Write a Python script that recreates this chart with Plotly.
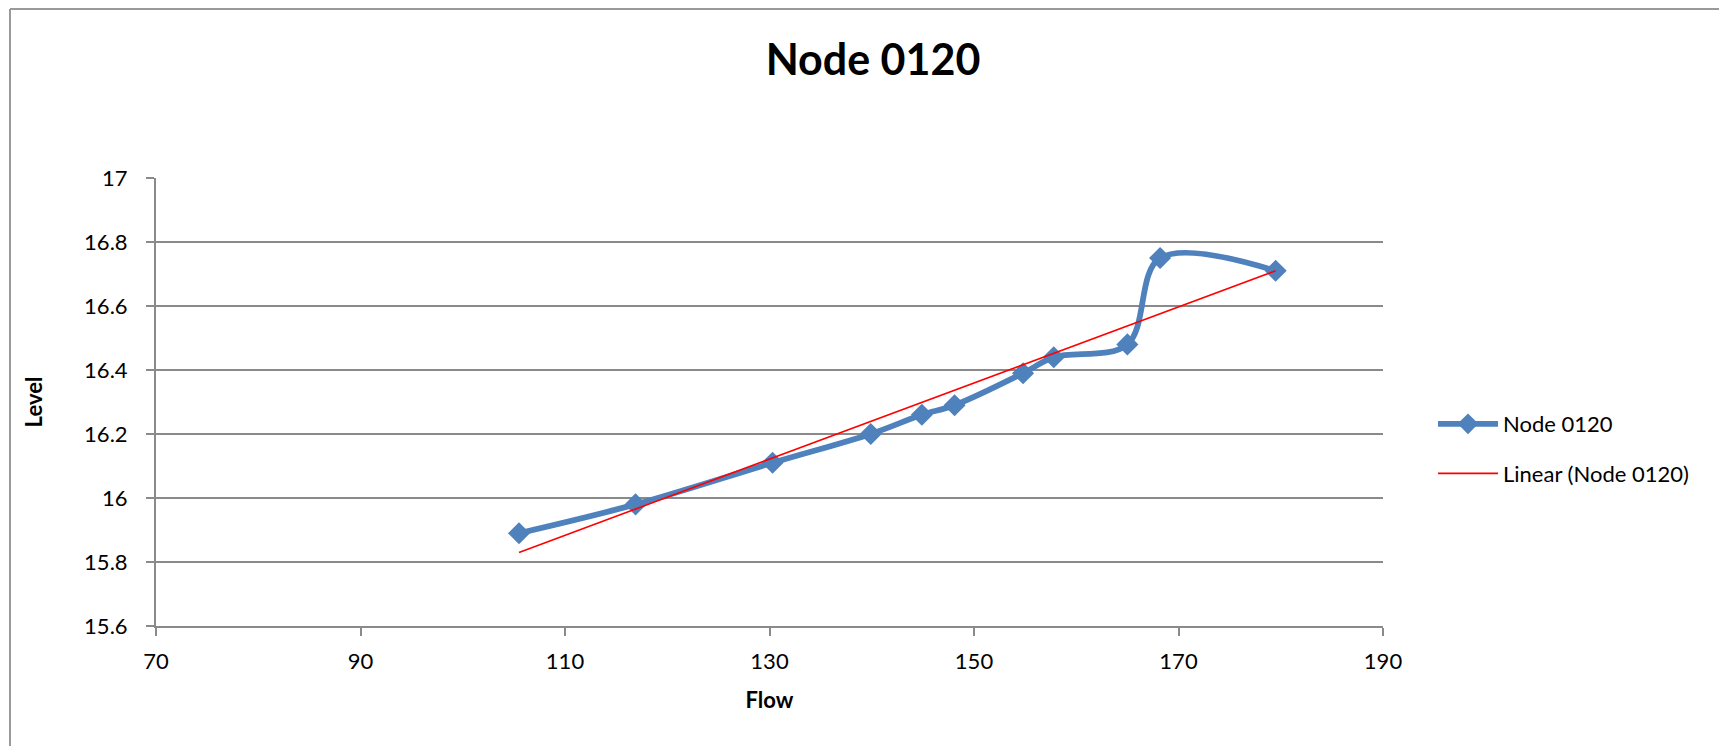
import plotly.graph_objects as go

# Data
flow = [105.5, 116.9, 130.3, 139.9, 144.9, 148.1, 154.8, 157.8, 165.0, 168.2, 179.5]
level = [15.89, 15.98, 16.11, 16.20, 16.26, 16.29, 16.39, 16.44, 16.48, 16.75, 16.71]

# Linear trendline endpoints
trend_flow = [105.5, 179.5]
trend_level = [15.83, 16.71]

x_ticks = [70, 90, 110, 130, 150, 170, 190]
y_ticks = [15.6, 15.8, 16, 16.2, 16.4, 16.6, 16.8, 17]
y_tick_text = ["15.6", "15.8", "16", "16.2", "16.4", "16.6", "16.8", "17"]

series_name = "Node 0120"
trend_name = "Linear (Node 0120)"

FONT = "Lato"
BLUE = "#4F81BD"
GRID = "#8a8a8a"

# page-space geometry (the page body adds an 8px margin around the figure)
OFF = 8
PW, PH = 1727, 746
W, H = PW - OFF, PH - OFF
L, R, T, B = 156 - OFF, 1383 - OFF, 178 - OFF, 626 - OFF

fig = go.Figure()
fig.add_trace(go.Scatter(
    x=flow, y=level, name=series_name, mode="lines+markers",
    line=dict(color=BLUE, width=5.8, shape="spline", smoothing=1),
    marker=dict(symbol="diamond", size=17, color=BLUE),
    legendgroup="a",
))
fig.add_trace(go.Scatter(
    x=trend_flow, y=trend_level, name=trend_name, mode="lines",
    line=dict(color="#FF0000", width=1.6),
    legendgroup="b",
))

fig.update_layout(
    width=W, height=H,
    margin=dict(l=L, r=W - R, t=T, b=H - B, pad=0),
    paper_bgcolor="white", plot_bgcolor="white",
    font=dict(family=FONT, color="black", size=22),
    title=dict(text="<b>Node 0120</b>", x=(873 - OFF) / W, xanchor="center",
               y=1 - (60 - OFF) / H, yanchor="middle", yref="container",
               font=dict(family=FONT, size=43, color="black")),
    showlegend=True,
    legend=dict(x=(1433 - OFF - L) / (R - L), xanchor="left",
                y=(B - (449 - OFF)) / (B - T), yanchor="middle",
                font=dict(family=FONT, size=22, color="black"),
                traceorder="grouped", tracegroupgap=18,
                bgcolor="rgba(0,0,0,0)", itemwidth=60),
)

fig.update_xaxes(
    range=[70, 190], tickmode="array", tickvals=x_ticks,
    showgrid=False, zeroline=False,
    showline=True, linecolor=GRID, linewidth=2,
    ticks="outside", ticklen=8, tickwidth=2, tickcolor=GRID,
    ticklabelstandoff=7,
    tickfont=dict(family=FONT, size=22, color="black"),
    title=dict(text="<b>Flow</b>", font=dict(family=FONT, size=22, color="black"), standoff=19),
)
fig.update_yaxes(
    range=[15.6, 17], tickmode="array", tickvals=y_ticks, ticktext=y_tick_text,
    showgrid=True, gridcolor=GRID, gridwidth=2, zeroline=False,
    showline=True, linecolor=GRID, linewidth=2,
    ticks="outside", ticklen=8, tickwidth=2, tickcolor=GRID,
    ticklabelstandoff=14,
    tickfont=dict(family=FONT, size=22, color="black"),
    title=dict(text="<b>Level</b>", font=dict(family=FONT, size=22, color="black"), standoff=35),
)

# Outer chart border (top and left edges visible in the reference)
px = lambda v: (v - OFF - L) / (R - L)
py = lambda v: (B - (v - OFF)) / (B - T)
fig.add_shape(type="line", xref="paper", yref="paper",
              x0=px(10), x1=px(PW + 20), y0=py(OFF + 1), y1=py(OFF + 1),
              line=dict(color="#9a9a9a", width=2))
fig.add_shape(type="line", xref="paper", yref="paper",
              x0=px(10), x1=px(10), y0=py(OFF + 1), y1=py(PH + 20),
              line=dict(color="#9a9a9a", width=2))

fig.write_html("out.html")
